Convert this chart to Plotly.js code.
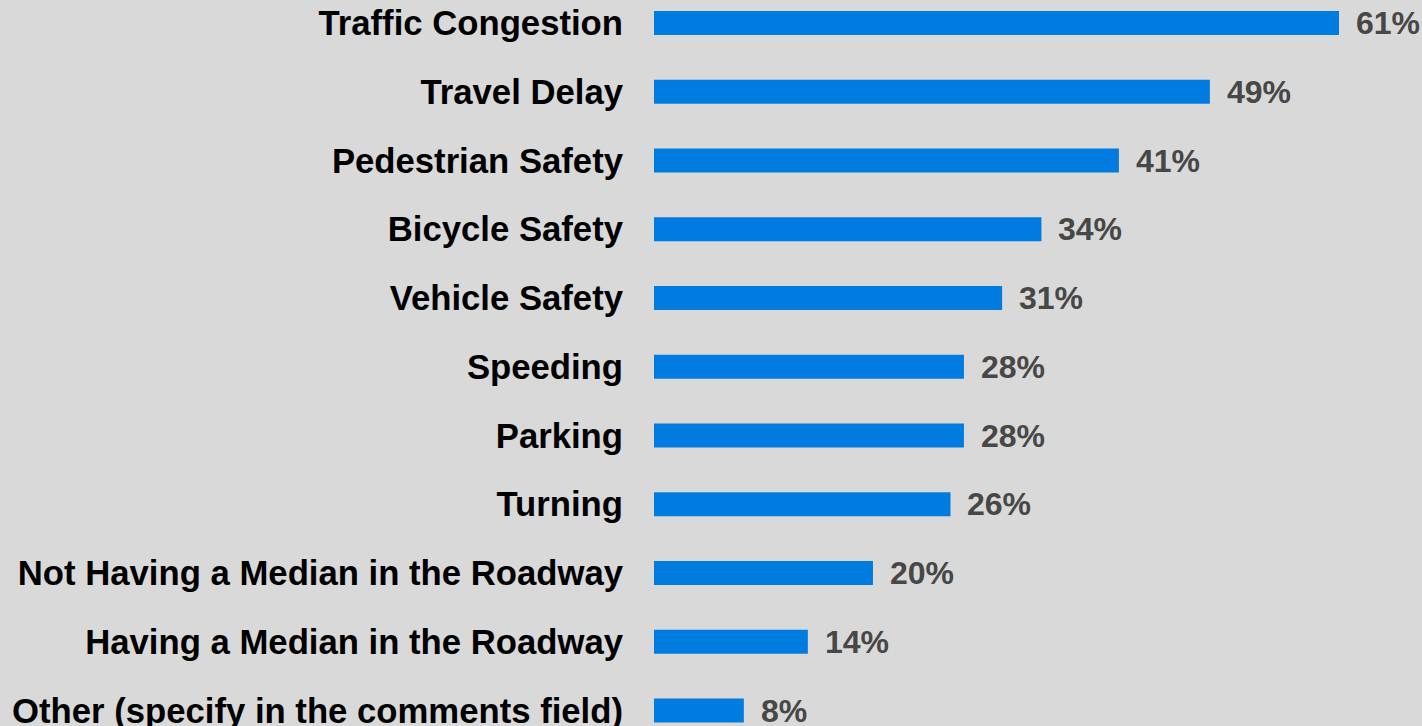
<!DOCTYPE html>
<html>
<head>
<meta charset="utf-8">
<script src="https://cdn.plot.ly/plotly-3.0.1.min.js"></script>
<style>
html,body{margin:0;padding:0;background:#d9d9d9;}
#chart{width:1422px;height:726px;}
</style>
</head>
<body>
<div id="chart"></div>
<script>
const categories = [
  "Traffic Congestion",
  "Travel Delay",
  "Pedestrian Safety",
  "Bicycle Safety",
  "Vehicle Safety",
  "Speeding",
  "Parking",
  "Turning",
  "Not Having a Median in the Roadway",
  "Having a Median in the Roadway",
  "Other (specify in the comments field)"
];
const values = [61.0, 49.5, 41.4, 34.5, 31.0, 27.6, 27.6, 26.4, 19.5, 13.7, 8.0];
const valueLabels = ["61%", "49%", "41%", "34%", "31%", "28%", "28%", "26%", "20%", "14%", "8%"];

const trace = {
  type: "bar",
  orientation: "h",
  x: values,
  y: categories,
  marker: {color: "#007CE0", line: {width: 0}},
  width: 0.35,
  hoverinfo: "none",
  cliponaxis: false
};

const annotations = categories.map((c, i) => ({
  x: values[i],
  y: c,
  xref: "x",
  yref: "y",
  text: valueLabels[i],
  showarrow: false,
  xanchor: "left",
  yanchor: "middle",
  xshift: 15,
  font: {family: "Liberation Sans, Arial, sans-serif", size: 32, color: "#474747", weight: "bold"}
}));

const layout = {
  width: 1422,
  height: 726,
  paper_bgcolor: "#d9d9d9",
  plot_bgcolor: "#d9d9d9",
  margin: {l: 654, r: 0, t: 0, b: 0, pad: 0},
  showlegend: false,
  font: {family: "Liberation Sans, Arial, sans-serif"},
  xaxis: {
    range: [0, 68.39],
    showgrid: false,
    zeroline: false,
    showticklabels: false,
    showline: false,
    ticks: ""
  },
  yaxis: {
    type: "category",
    range: [10.225, -0.3345],
    showgrid: false,
    zeroline: false,
    showline: false,
    ticks: "",
    ticklabelstandoff: 30,
    tickfont: {family: "Liberation Sans, Arial, sans-serif", size: 34.7, color: "#000000", weight: "bold"}
  },
  annotations: annotations,
  hovermode: false
};

Plotly.newPlot("chart", [trace], layout, {displayModeBar: false, staticPlot: true});
</script>
</body>
</html>
